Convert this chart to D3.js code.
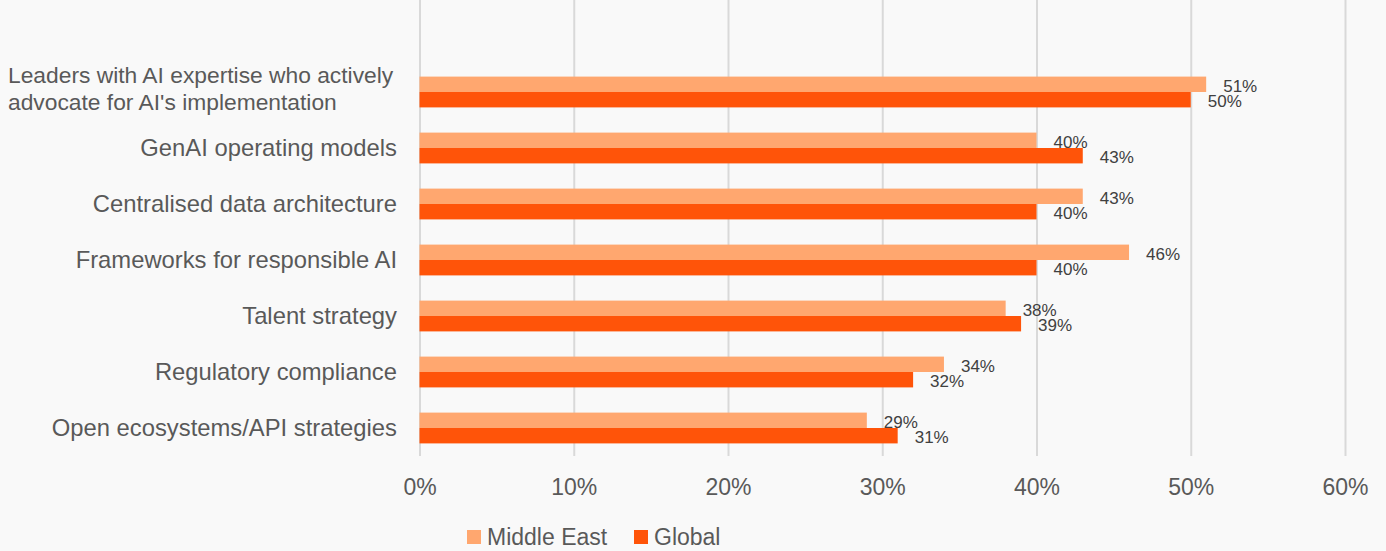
<!DOCTYPE html>
<html lang="en">
<head>
    <meta charset="UTF-8">
    <title>GenAI enablers</title>
    <script src="https://cdn.jsdelivr.net/npm/d3@7"></script>
    <style>
        html, body { margin: 0; padding: 0; background: #f9f9f9; }
        svg { display: block; font-family: "Liberation Sans", Arial, sans-serif; }
    </style>
</head>
<body>
    <div id="chart-space"></div>

<script>
    // data
    var categories = [
        "Leaders with AI expertise who actively advocate for AI's implementation",
        "GenAI operating models",
        "Centralised data architecture",
        "Frameworks for responsible AI",
        "Talent strategy",
        "Regulatory compliance",
        "Open ecosystems/API strategies"
    ];
    var seriesNames = ["Middle East", "Global"];
    var middleEast = [51, 40, 43, 46, 38, 34, 29];
    var global = [50, 43, 40, 40, 39, 32, 31];
    var tickValues = [0, 10, 20, 30, 40, 50, 60];

    var width = 1386;
    var height = 551;
    var margin = {top: 64, right: 41, bottom: 95, left: 419.5};
    var colors = {"Middle East": "#ffa76f", "Global": "#ff5409"};

    var rows = categories.map(function(c, i) {
        return {cat: c, values: [
            {key: "Middle East", value: middleEast[i]},
            {key: "Global", value: global[i]}
        ]};
    });

    var svg = d3.select("#chart-space")
                .append("svg")
                .attr("width", width)
                .attr("height", height);

    var xScale = d3.scaleLinear()
                   .domain([0, 60])
                   .range([margin.left, width - margin.right]);

    var yScale = d3.scaleBand()
                   .domain(categories)
                   .range([margin.top, height - margin.bottom])
                   .paddingInner(0.45)
                   .paddingOuter(0.225);

    var ySub = d3.scaleBand()
                 .domain(seriesNames)
                 .range([0, yScale.bandwidth()]);

    var axisY = height - margin.bottom;

    // vertical gridlines
    svg.append("g")
       .attr("transform", "translate(0," + axisY + ")")
       .call(d3.axisBottom(xScale).tickValues(tickValues).tickSize(-axisY).tickFormat(""))
       .call(function(g) {
           g.select(".domain").remove();
           g.selectAll("line").attr("stroke", "#d9d9d9").attr("stroke-width", 2);
       });

    // tick labels
    svg.append("g")
       .attr("transform", "translate(0," + axisY + ")")
       .call(d3.axisBottom(xScale).tickValues(tickValues).tickSize(0).tickPadding(23)
               .tickFormat(function(d) { return d + "%"; }))
       .call(function(g) {
           g.select(".domain").remove();
           g.selectAll("text")
            .attr("fill", "#595959")
            .style("font-size", "23px")
            .style("font-family", "'Liberation Sans', Arial, sans-serif");
       });

    var groups = svg.selectAll(".row")
                    .data(rows)
                    .join("g")
                    .attr("class", "row")
                    .attr("transform", function(d) { return "translate(0," + yScale(d.cat) + ")"; });

    groups.selectAll("rect")
          .data(function(d) { return d.values; })
          .join("rect")
          .attr("x", xScale(0))
          .attr("y", function(d) { return ySub(d.key); })
          .attr("width", function(d) { return xScale(d.value) - xScale(0); })
          .attr("height", ySub.bandwidth())
          .attr("fill", function(d) { return colors[d.key]; });

    groups.selectAll(".val")
          .data(function(d) { return d.values; })
          .join("text")
          .attr("class", "val")
          .attr("x", function(d) { return xScale(d.value) + 17; })
          .attr("y", function(d) { return ySub(d.key) + ySub.bandwidth() - 0.5; })
          .attr("fill", "#404040")
          .style("font-size", "17px")
          .text(function(d) { return d.value + "%"; });

    // category labels
    var catLabels = svg.selectAll(".cat")
                       .data(categories)
                       .join("text")
                       .attr("class", "cat")
                       .attr("fill", "#595959")
                       .style("font-size", "23.8px");

    catLabels.each(function(d, i) {
        var t = d3.select(this);
        var cy = yScale(d) + yScale.bandwidth() / 2;
        if (i === 0) {
            // wrapped label, left aligned
            t.attr("text-anchor", "start").style("font-size", "22.8px");
            t.append("tspan").attr("x", 8).attr("y", cy - 9).text("Leaders with AI expertise who actively");
            t.append("tspan").attr("x", 8).attr("y", cy + 18).text("advocate for AI's implementation");
        } else {
            t.attr("text-anchor", "end")
             .attr("x", 397)
             .attr("y", cy + 7.5)
             .text(d);
        }
    });

    // legend
    var legend = svg.append("g").attr("transform", "translate(467," + 530 + ")");
    var legendX = [0, 167];
    seriesNames.forEach(function(name, i) {
        var lg = legend.append("g").attr("transform", "translate(" + legendX[i] + ",0)");
        lg.append("rect").attr("width", 14).attr("height", 14).attr("fill", colors[name]);
        lg.append("text")
          .attr("x", 20)
          .attr("y", 15)
          .attr("fill", "#595959")
          .style("font-size", "23px")
          .text(name);
    });
</script>
</body>
</html>
